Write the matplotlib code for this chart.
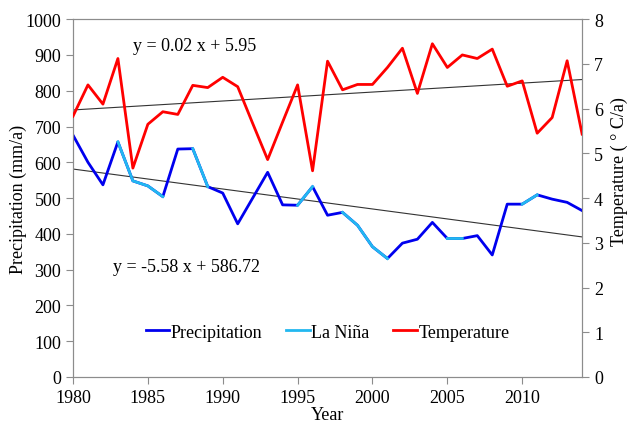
import numpy as np
import matplotlib
matplotlib.use('Agg')
import matplotlib.pyplot as plt
from matplotlib.lines import Line2D

plt.rcParams['font.family'] = ['Liberation Serif', 'DejaVu Serif']

years = list(range(1980, 2015))

# annual precipitation (mm/a)
precip = [676, 600, 537, 657, 548, 534, 504, 637, 638, 532,
          514, 428, 500, 572, 481, 480, 532, 452, 460, 424,
          364, 331, 374, 385, 432, 387, 387, 395, 341, 483,
          483, 509, 497, 488, 465]

# annual mean temperature (deg C)
temp = [5.83, 6.53, 6.10, 7.12, 4.67, 5.65, 5.93, 5.87, 6.52, 6.47,
        6.70, 6.49, 5.67, 4.86, 5.70, 6.53, 4.61, 7.06, 6.42, 6.54,
        6.54, 6.92, 7.35, 6.34, 7.45, 6.92, 7.20, 7.12, 7.33, 6.50,
        6.62, 5.45, 5.80, 7.07, 5.43]

# years on the La Nina segments of the precipitation line
la_nina = [1983, 1984, 1985, 1986, 1988, 1989, 1995, 1996,
           1998, 1999, 2000, 2001, 2005, 2006, 2010, 2011]

# linear trends as given on the chart (x = 1 .. 35)
precip_trend = (-5.58, 586.72)
temp_trend = (0.02, 5.95)

years = np.array(years)
precip = np.array(precip, dtype=float)
temp = np.array(temp, dtype=float)
xi = np.arange(1, len(years) + 1)

fig = plt.figure(figsize=(6.27, 4.27), dpi=100)
ax = fig.add_axes([0.1164, 0.1148, 0.812, 0.838])
ax2 = ax.twinx()

dark = '#0000ee'
light = '#22b8f0'
red = '#ff0000'
lw = 2.0

ax.plot(years, precip, color=dark, lw=lw, zorder=3)
mask = np.isin(years, la_nina)
ax.plot(years, np.where(mask, precip, np.nan), color=light, lw=lw, zorder=4)
ax.plot(years, precip_trend[0] * xi + precip_trend[1], color='#333333', lw=0.8, zorder=2)

ax2.plot(years, temp, color=red, lw=lw, zorder=3)
ax2.plot(years, temp_trend[0] * xi + temp_trend[1], color='#333333', lw=0.8, zorder=2)

ax.set_xlim(1980, 2014)
ax.set_ylim(0, 1000)
ax2.set_ylim(0, 8)
ax.set_xticks(range(1980, 2015, 5))
ax.set_yticks(range(0, 1001, 100))
ax2.set_yticks(range(0, 9))

for a in (ax, ax2):
    for s in a.spines.values():
        s.set_color('#8c8c8c')
    a.tick_params(colors='#8c8c8c', labelcolor='black', labelsize=13, length=5, direction='out')

ax.set_xlabel('Year', fontsize=13, labelpad=0)
ax.set_ylabel('Precipitation (mm/a)', fontsize=13, labelpad=-1)
ax2.set_ylabel('Temperature ( ° C/a)', fontsize=13)
ax2.yaxis.set_label_coords(1.056, 0.578)

ax.text(1984.0, 925, 'y = 0.02 x + 5.95', fontsize=13, va='center')
ax.text(1982.7, 308, 'y = -5.58 x + 586.72', fontsize=13, va='center')

handles = [Line2D([], [], color=dark, lw=lw),
           Line2D([], [], color=light, lw=lw),
           Line2D([], [], color=red, lw=lw)]
ax.legend(handles, ['Precipitation', 'La Niña', 'Temperature'],
          loc='center', bbox_to_anchor=(0.5, 0.125), ncol=3, frameon=False,
          fontsize=13, handlelength=1.3, handletextpad=0.1, columnspacing=1.3)

fig.savefig('out.png', dpi=100)
